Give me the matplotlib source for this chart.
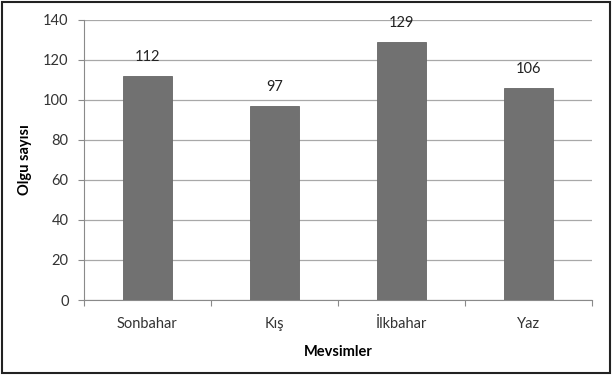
import numpy as np
import matplotlib.pyplot as plt
from matplotlib.patches import Rectangle

seasons = ["Sonbahar", "Kış", "İlkbahar", "Yaz"]
cases = [112, 97, 129, 106]
y_ticks = [0, 20, 40, 60, 80, 100, 120, 140]

plt.rcParams["font.family"] = ["Lato", "DejaVu Sans"]

fig = plt.figure(figsize=(6.12, 3.75), dpi=100)
ax = fig.add_axes([0.137, 0.2, 0.83, 0.747])

x = np.arange(len(seasons))
bars = ax.bar(x, cases, width=0.39, color="#717171", edgecolor="#666666",
              linewidth=0.6, zorder=3)
for rect, v in zip(bars, cases):
    ax.text(rect.get_x() + rect.get_width() / 2, v + 6, str(v),
            ha="center", va="bottom", fontsize=10.5, color="#222222")

ax.set_xlim(-0.5, len(seasons) - 0.5)
ax.set_ylim(0, 140)
ax.set_yticks(y_ticks)
ax.set_xticks(x)
ax.set_xticklabels(seasons)
ax.set_xticks(np.arange(-0.5, len(seasons)), minor=True)
ax.tick_params(axis="x", which="major", length=0, pad=12, labelsize=10.5,
               labelcolor="#333333")
ax.tick_params(axis="x", which="minor", length=4, color="#8a8a8a", width=0.8)
ax.tick_params(axis="y", length=4, color="#8a8a8a", width=0.8, labelsize=10.5,
               labelcolor="#333333", pad=7)

ax.grid(axis="y", color="#a8a8a8", linewidth=0.9, zorder=0)
for side in ["top", "right"]:
    ax.spines[side].set_visible(False)
ax.spines["left"].set_color("#8a8a8a")
ax.spines["bottom"].set_color("#8a8a8a")

ax.set_xlabel("Mevsimler", fontsize=10.5, fontweight="bold", labelpad=10)
ax.set_ylabel("Olgu sayısı", fontsize=10.5, fontweight="bold", labelpad=8)

# outer frame
fig.patches.append(Rectangle((0.004, 0.006), 0.992, 0.988, transform=fig.transFigure,
                             fill=False, edgecolor="#222222", linewidth=1.5))

fig.savefig("out.png", dpi=100, facecolor="white")
